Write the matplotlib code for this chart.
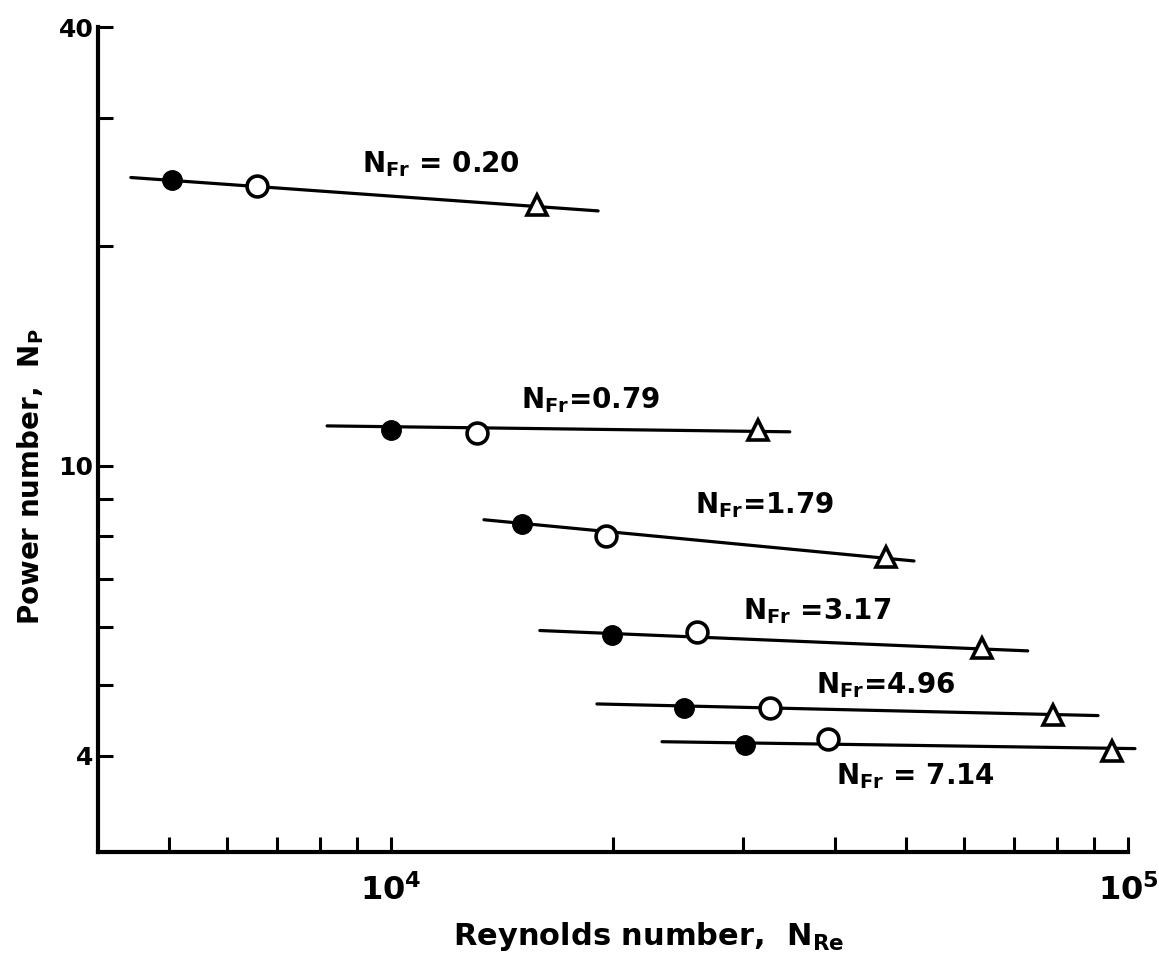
import matplotlib
matplotlib.use("Agg")
import matplotlib.pyplot as plt
from matplotlib.ticker import FixedLocator, NullFormatter

plt.rcParams['font.family'] = ['DejaVu Sans']
plt.rcParams['font.weight'] = 'bold'
plt.rcParams['mathtext.default'] = 'regular'

# Froude number of each run series
nfr_labels = ["0.20", "0.79", "1.79", "3.17", "4.96", "7.14"]
nfr_sep = [" = ", "=", "=", " =", "=", " = "]

# filled circles
re_filled = [5045, 10000, 15050, 19950, 24980, 30220]
np_filled = [24.7, 11.20, 8.32, 5.86, 4.65, 4.14]
# open circles
re_open = [6580, 13080, 19570, 26000, 32680, 39170]
np_open = [24.2, 11.09, 8.01, 5.92, 4.65, 4.22]
# triangles
re_tri = [15780, 31480, 46960, 63390, 79100, 95060]
np_tri = [22.8, 11.2, 7.50, 5.62, 4.55, 4.06]

# straight fitted lines through each series (ends)
re_line_start = [4436, 8190, 13370, 15920, 19030, 23320]
re_line_end = [19100, 34760, 51240, 73100, 91060, 102200]
np_line_start = [24.86, 11.34, 8.43, 5.94, 4.71, 4.18]
np_line_end = [22.37, 11.13, 7.40, 5.57, 4.54, 4.09]

# where each N_Fr label sits (data coords)
label_re = [9140, 15000, 25850, 30070, 37750, 40170]
label_np = [25.3, 12.0, 8.61, 6.16, 4.88, 3.65]

x_major = [1e4, 1e5]
x_major_labels = [r"$10^{4}$", r"$10^{5}$"]
x_minor = [5000, 6000, 7000, 8000, 9000,
           20000, 30000, 40000, 50000, 60000, 70000, 80000, 90000]
y_major = [4, 10, 40]
y_major_labels = ["4", "10", "40"]
y_minor = [5, 6, 7, 8, 9, 20, 30]

fig = plt.figure(figsize=(11.59, 9.65), dpi=100)
ax = fig.add_axes([97.7 / 1159, 1 - 852 / 965, 1030.3 / 1159, 825 / 965])

for i in range(len(nfr_labels)):
    ax.plot([re_line_start[i], re_line_end[i]], [np_line_start[i], np_line_end[i]],
            color="black", lw=2.3, solid_capstyle="round", clip_on=False, zorder=2)
    ax.plot(re_filled[i], np_filled[i], "o", ms=14, color="black", clip_on=False, zorder=3)
    ax.plot(re_open[i], np_open[i], "o", ms=15, mfc="white", mec="black", mew=2.6,
            clip_on=False, zorder=3)
    ax.plot(re_tri[i], np_tri[i], "^", ms=15, mfc="white", mec="black", mew=2.6,
            clip_on=False, zorder=3)
    ax.text(label_re[i], label_np[i], r"$N_{Fr}$" + nfr_sep[i] + nfr_labels[i],
            fontsize=20, fontweight="bold", ha="left", va="baseline")

ax.set_xscale("log")
ax.set_yscale("log")
ax.set_xlim(4000, 1e5)
ax.set_ylim(2.95, 40)

ax.xaxis.set_major_locator(FixedLocator(x_major))
ax.xaxis.set_minor_locator(FixedLocator(x_minor))
ax.set_xticklabels(x_major_labels)
ax.xaxis.set_minor_formatter(NullFormatter())
ax.yaxis.set_major_locator(FixedLocator(y_major))
ax.yaxis.set_minor_locator(FixedLocator(y_minor))
ax.set_yticklabels(y_major_labels)
ax.yaxis.set_minor_formatter(NullFormatter())

ax.tick_params(which="both", direction="in", length=11, width=2.2, labelsize=18)
ax.tick_params(axis="x", which="major", pad=16, labelsize=23)
ax.tick_params(axis="y", which="major", pad=3)

for s in ["top", "right"]:
    ax.spines[s].set_visible(False)
for s in ["left", "bottom"]:
    ax.spines[s].set_linewidth(3)

ax.set_xlabel(r"Reynolds number,  $N_{Re}$", fontsize=22, fontweight="bold")
ax.set_ylabel(r"Power number,  $N_{P}$", fontsize=20, fontweight="bold")
ax.xaxis.set_label_coords(0.535, -0.082)
ax.yaxis.set_label_coords(-0.050, 0.455)

fig.savefig("out.png", dpi=100)
